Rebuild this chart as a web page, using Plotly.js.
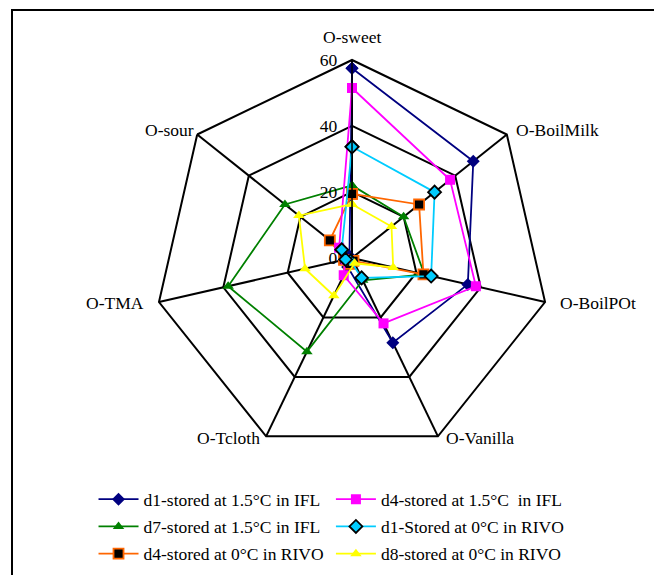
<!DOCTYPE html>
<html>
<head>
<meta charset="utf-8">
<script src="https://cdn.plot.ly/plotly-3.0.1.min.js"></script>
<style>html,body{margin:0;padding:0;background:#fff}</style>
</head>
<body>
<div id="chart" style="width:654px;height:575px"></div>
<script>
// attributes round the web, clockwise from the top
var attributes = ['O-sweet', 'O-BoilMilk', 'O-BoilPOt', 'O-Vanilla', 'O-Tcloth', 'O-TMA', 'O-sour'];

var d1IFL  = [57.5, 47, 36, 28.5, 3, 1.5, 1];
var d4IFL  = [51.5, 38, 38.5, 22, 5.8, 2, 5];
var d7IFL  = [22, 20, 22.5, 7.5, 31.5, 38.5, 26];
var d1RIVO = [33.7, 32, 24.6, 6.7, 1, 2, 4];
var d4RIVO = [19.4, 26, 22.2, 1, 2, 2.5, 8.6];
var d8RIVO = [16.3, 15.3, 12.8, 1.8, 12.7, 14.6, 20.6];

var radialTicks = [0, 20, 40, 60];

var serif = 'Liberation Serif, Times New Roman, serif';
var fs = 17.5;

function closed(a) { return a.concat([a[0]]); }

function series(name, vals, lineColor, symbol, fill, edge, legend) {
  return {
    type: 'scatterpolar',
    mode: 'lines+markers',
    name: name,
    r: closed(vals),
    theta: closed(attributes),
    line: {color: lineColor, width: 1.8},
    marker: {symbol: symbol, size: 10, color: fill, line: {color: edge, width: edge === fill ? 0 : 1.8}},
    legend: legend,
    legendgroup: name,
    cliponaxis: false
  };
}

var data = [
  series('d1-stored at 1.5°C in IFL', d1IFL, '#000080', 'diamond', '#000080', '#000080', 'legend'),
  series('d7-stored at 1.5°C in IFL', d7IFL, '#008000', 'triangle-up', '#008000', '#008000', 'legend'),
  series('d4-stored at 0°C in RIVO', d4RIVO, '#FF6600', 'square', '#000000', '#FF6600', 'legend'),
  series('d4-stored at 1.5°C  in IFL', d4IFL, '#FF00FF', 'square', '#FF00FF', '#FF00FF', 'legend2'),
  series('d1-Stored at 0°C in RIVO', d1RIVO, '#00CCFF', 'diamond', '#00CCFF', '#000000', 'legend2'),
  series('d8-stored at 0°C in RIVO', d8RIVO, '#FFFF00', 'triangle-up', '#FFFF00', '#FFFF00', 'legend2')
];

// where each attribute name sits (paper pixels, text centre)
var labelPos = [[352, 37], [557, 130], [598, 303], [480, 438], [228, 438], [115, 303], [170, 130]];

var annotations = attributes.map(function (name, i) {
  return {
    text: name, showarrow: false,
    xref: 'paper', yref: 'paper',
    x: labelPos[i][0] / 654, y: 1 - labelPos[i][1] / 575,
    xanchor: 'center', yanchor: 'middle',
    font: {family: serif, size: fs, color: '#000'}
  };
});

var legendStyle = {
  font: {family: serif, size: fs, color: '#000'},
  bgcolor: 'rgba(0,0,0,0)',
  traceorder: 'grouped',
  tracegroupgap: 1.5,
  itemwidth: 40,
  yanchor: 'top',
  xanchor: 'left'
};

var layout = {
  width: 654,
  height: 575,
  margin: {l: 0, r: 0, t: 0, b: 0},
  paper_bgcolor: '#fff',
  font: {family: serif, size: fs, color: '#000'},
  showlegend: true,
  legend: Object.assign({x: 0.143, y: 0.163}, legendStyle),
  legend2: Object.assign({x: 0.506, y: 0.163}, legendStyle),
  annotations: annotations,
  polar: {
    domain: {x: [0.2355, 0.841], y: [0.207, 0.8957]},
    gridshape: 'linear',
    bgcolor: 'rgba(0,0,0,0)',
    radialaxis: {
      range: [0, 60],
      tickvals: radialTicks,
      angle: 90,
      tickangle: 90,
      side: 'counterclockwise',
      showline: true,
      linecolor: '#000',
      linewidth: 1.5,
      gridcolor: '#000',
      gridwidth: 1.5,
      ticks: 'outside',
      ticklen: 8,
      tickcolor: 'rgba(0,0,0,0)',
      tickfont: {family: serif, size: fs, color: '#000'}
    },
    angularaxis: {
      rotation: 90,
      direction: 'clockwise',
      categoryorder: 'array',
      categoryarray: attributes,
      showline: true,
      showticklabels: false,
      linecolor: '#000',
      linewidth: 2,
      gridcolor: '#000',
      gridwidth: 1.5,
      ticks: ''
    }
  },
  shapes: [{
    type: 'rect', xref: 'paper', yref: 'paper',
    x0: 12 / 654, x1: 1.05, y0: -0.05, y1: 1 - 10 / 575,
    line: {color: '#000', width: 2}
  }]
};

Plotly.newPlot('chart', data, layout, {displayModeBar: false});
</script>
</body>
</html>
